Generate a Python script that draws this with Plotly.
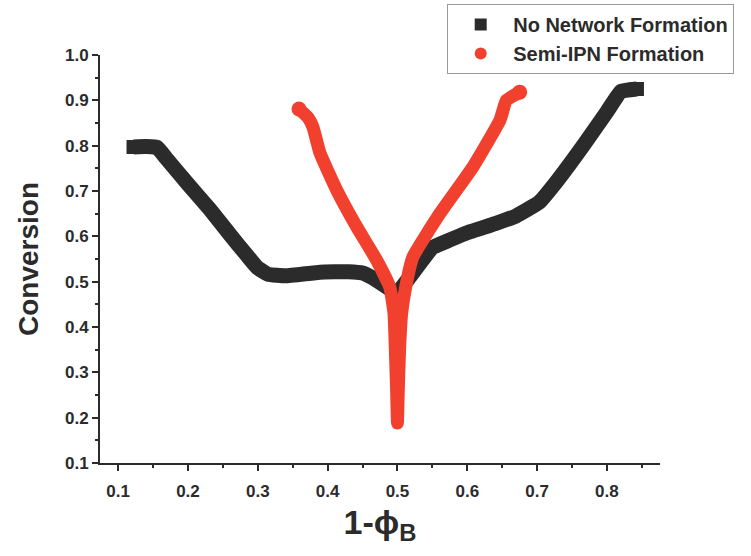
import plotly.graph_objects as go

# No Network Formation (black squares)
nn_x = [0.122, 0.140, 0.156, 0.170, 0.200, 0.231, 0.260, 0.285, 0.300, 0.315, 0.340, 0.389, 0.430, 0.450,
        0.465, 0.485, 0.499, 0.515, 0.532, 0.550, 0.575, 0.600, 0.640, 0.670, 0.703, 0.725, 0.766, 0.800,
        0.820, 0.843]
nn_y = [0.797, 0.798, 0.796, 0.770, 0.715, 0.660, 0.604, 0.557, 0.530, 0.516, 0.513, 0.521, 0.522, 0.519,
        0.508, 0.488, 0.475, 0.505, 0.540, 0.575, 0.592, 0.608, 0.628, 0.645, 0.675, 0.715, 0.800, 0.875,
        0.920, 0.925]

# Semi-IPN Formation (red circles)
ipn_x = [0.359, 0.372, 0.379, 0.389, 0.413, 0.442, 0.470, 0.489, 0.495, 0.497, 0.499, 0.500,
         0.501, 0.503, 0.506, 0.512, 0.522, 0.561, 0.608, 0.647, 0.656, 0.675]
ipn_y = [0.881, 0.862, 0.841, 0.784, 0.702, 0.620, 0.548, 0.488, 0.430, 0.350, 0.250, 0.188,
         0.250, 0.350, 0.430, 0.490, 0.554, 0.651, 0.753, 0.857, 0.900, 0.918]

x_ticks = [0.1, 0.2, 0.3, 0.4, 0.5, 0.6, 0.7, 0.8]
y_ticks = [0.1, 0.2, 0.3, 0.4, 0.5, 0.6, 0.7, 0.8, 0.9, 1.0]
x_minor = [0.15, 0.25, 0.35, 0.45, 0.55, 0.65, 0.75, 0.85]
y_minor = [0.15, 0.25, 0.35, 0.45, 0.55, 0.65, 0.75, 0.85, 0.95]

BLACK = "#2b2b2b"
RED = "#f2402f"
FONT = "Liberation Sans"

fig = go.Figure()
fig.add_trace(go.Scatter(x=nn_x, y=nn_y, mode="lines", line=dict(color=BLACK, width=15, shape="spline", smoothing=0.3),
                         showlegend=False, hoverinfo="skip"))
fig.add_trace(go.Scatter(x=ipn_x, y=ipn_y, mode="lines", line=dict(color=RED, width=13, shape="spline", smoothing=0.4),
                         showlegend=False, hoverinfo="skip"))
fig.add_trace(go.Scatter(x=[nn_x[0], nn_x[-1]], y=[nn_y[0], nn_y[-1]], mode="markers",
                         marker=dict(symbol="square", size=14, color=BLACK),
                         name="No Network Formation"))
fig.add_trace(go.Scatter(x=[ipn_x[0], ipn_x[-1]], y=[ipn_y[0], ipn_y[-1]], mode="markers",
                         marker=dict(symbol="circle", size=15, color=RED),
                         name="Semi-IPN Formation"))

axis_common = dict(showline=True, linecolor=BLACK, linewidth=2, ticks="outside", ticklen=6, tickwidth=2,
                   tickcolor=BLACK, showgrid=False, zeroline=False, mirror=False, automargin=False,
                   tickfont=dict(family=FONT, size=17, color=BLACK, weight="bold"))

fig.update_xaxes(range=[0.074, 0.876], tickvals=x_ticks, ticktext=[f"{v:.1f}" for v in x_ticks],
                 ticklabelstandoff=6,
                 title=dict(text="1-ϕ<sub>B</sub>", font=dict(family=FONT, size=34, color=BLACK, weight="bold"), standoff=10),
                 minor=dict(ticks="outside", ticklen=3, tickwidth=2, tickcolor=BLACK, showgrid=False, tickvals=x_minor),
                 **axis_common)
fig.update_yaxes(range=[0.1, 1.0], tickvals=y_ticks, ticktext=[f"{v:.1f}" for v in y_ticks],
                 title=dict(text="Conversion", font=dict(family=FONT, size=28, color=BLACK, weight="bold"), standoff=18),
                 minor=dict(ticks="outside", ticklen=3, tickwidth=2, tickcolor=BLACK, showgrid=False, tickvals=y_minor),
                 **axis_common)

fig.update_layout(
    width=751, height=556,
    margin=dict(l=100, r=91, t=55, b=93, autoexpand=False),
    plot_bgcolor="white", paper_bgcolor="white",
    font=dict(family=FONT, color=BLACK),
    legend=dict(x=0.62, y=1.125, xanchor="left", yanchor="top", bordercolor="#999999", borderwidth=1,
                bgcolor="white", font=dict(family=FONT, size=20, color=BLACK, weight="bold"),
                itemsizing="constant", tracegroupgap=0, itemwidth=55),
)

fig.write_html("out.html", config={"displayModeBar": False},
               post_script="document.body.style.margin='0';document.body.style.overflow='hidden';")
